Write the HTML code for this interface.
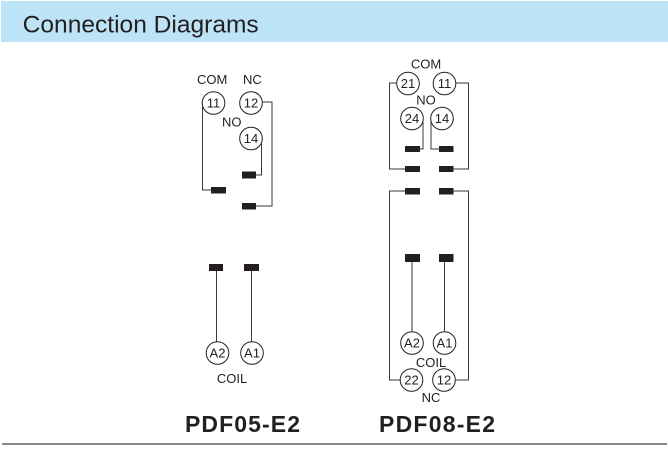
<!DOCTYPE html>
<html>
<head>
<meta charset="utf-8">
<style>
  html, body { margin: 0; padding: 0; background: #ffffff; }
  svg { display: block; }
  text { font-family: "Liberation Sans", Arial, sans-serif; fill: #231f20; }
</style>
</head>
<body>
<svg width="668" height="471" viewBox="0 0 668 471" xmlns="http://www.w3.org/2000/svg">
  <!-- Header -->
  <rect x="1" y="1" width="667" height="41" fill="#bde3f6"/>
  <text x="22.7" y="32.3" font-size="24" textLength="236" lengthAdjust="spacingAndGlyphs">Connection  Diagrams</text>

  <!-- ===== PDF05-E2 ===== -->
  <g font-size="13">
    <text x="197" y="84">COM</text>
    <text x="243" y="84">NC</text>
    <text x="222" y="126.5">NO</text>
  </g>
  <g fill="none" stroke="#231f20" stroke-width="1">
    <circle cx="213.5" cy="103" r="11.3"/>
    <circle cx="251" cy="103" r="11.3"/>
    <circle cx="251" cy="138.5" r="11.3"/>
  </g>
  <g font-size="13" text-anchor="middle">
    <text x="213.5" y="107.7">11</text>
    <text x="251" y="107.7">12</text>
    <text x="251" y="143.2">14</text>
  </g>
  <g fill="none" stroke="#3a3a3a" stroke-width="1">
    <polyline points="202.5,103 202.5,190 211,190"/>
    <polyline points="261.5,143 261.5,175 256,175"/>
    <polyline points="262,102 272,102 272,206 256,206"/>
    <line x1="216.5" y1="271" x2="216.5" y2="342"/>
    <line x1="251.5" y1="271" x2="251.5" y2="342"/>
  </g>
  <g fill="#231f20">
    <rect x="211" y="187" width="15" height="6.5"/>
    <rect x="242" y="171.5" width="14" height="7"/>
    <rect x="242" y="203" width="14" height="6.5"/>
    <rect x="209" y="264" width="14" height="7"/>
    <rect x="244" y="264" width="15" height="7"/>
  </g>
  <g fill="none" stroke="#231f20" stroke-width="1">
    <circle cx="217.5" cy="353" r="11.3"/>
    <circle cx="252" cy="353" r="11.3"/>
  </g>
  <g font-size="13" text-anchor="middle">
    <text x="217.5" y="357.7">A2</text>
    <text x="252" y="357.7">A1</text>
  </g>
  <text x="232" y="383" font-size="13" text-anchor="middle">COIL</text>

  <!-- ===== PDF08-E2 ===== -->
  <g font-size="13" text-anchor="middle">
    <text x="426" y="68.5">COM</text>
    <text x="426" y="104.5">NO</text>
    <text x="431" y="367">COIL</text>
    <text x="431" y="402">NC</text>
  </g>
  <g fill="none" stroke="#231f20" stroke-width="1">
    <circle cx="408" cy="83.5" r="11.3"/>
    <circle cx="444.5" cy="83.5" r="11.3"/>
    <circle cx="412" cy="118.5" r="11.3"/>
    <circle cx="442" cy="118.5" r="11.3"/>
    <circle cx="412" cy="343" r="11.3"/>
    <circle cx="444.5" cy="343" r="11.3"/>
    <circle cx="411.5" cy="380" r="11.3"/>
    <circle cx="444" cy="380" r="11.3"/>
  </g>
  <g font-size="13" text-anchor="middle">
    <text x="408" y="88.2">21</text>
    <text x="444.5" y="88.2">11</text>
    <text x="412" y="123.2">24</text>
    <text x="442" y="123.2">14</text>
    <text x="412" y="347.7">A2</text>
    <text x="444.5" y="347.7">A1</text>
    <text x="411.5" y="384.7">22</text>
    <text x="444" y="384.7">12</text>
  </g>
  <g fill="none" stroke="#3a3a3a" stroke-width="1">
    <polyline points="397,83 389.5,83 389.5,169 405,169"/>
    <polyline points="455.5,83 468.5,83 468.5,169 453,169"/>
    <polyline points="423,122 423,149 420,149"/>
    <polyline points="431,122 431,149 439,149"/>
    <polyline points="405,191 389.5,191 389.5,380 400.5,380"/>
    <polyline points="453,191 468.5,191 468.5,380 455,380"/>
    <line x1="412" y1="262" x2="412" y2="332"/>
    <line x1="444.5" y1="262" x2="444.5" y2="332"/>
  </g>
  <g fill="#231f20">
    <rect x="405" y="146" width="15" height="6"/>
    <rect x="439" y="146" width="14.5" height="6"/>
    <rect x="405" y="166" width="15" height="6"/>
    <rect x="439" y="166" width="14.5" height="6"/>
    <rect x="405" y="188" width="15" height="6.5"/>
    <rect x="439" y="188" width="14.5" height="6.5"/>
    <rect x="405" y="254" width="15" height="8"/>
    <rect x="439" y="254" width="14.5" height="8"/>
  </g>

  <!-- Titles -->
  <g font-size="23" font-weight="bold">
    <text x="185" y="432" textLength="115" lengthAdjust="spacing">PDF05-E2</text>
    <text x="379" y="432" textLength="116" lengthAdjust="spacing">PDF08-E2</text>
  </g>

  <!-- Bottom rule -->
  <rect x="2" y="443" width="665" height="2" fill="#8a8a8a"/>
</svg>
</body>
</html>
